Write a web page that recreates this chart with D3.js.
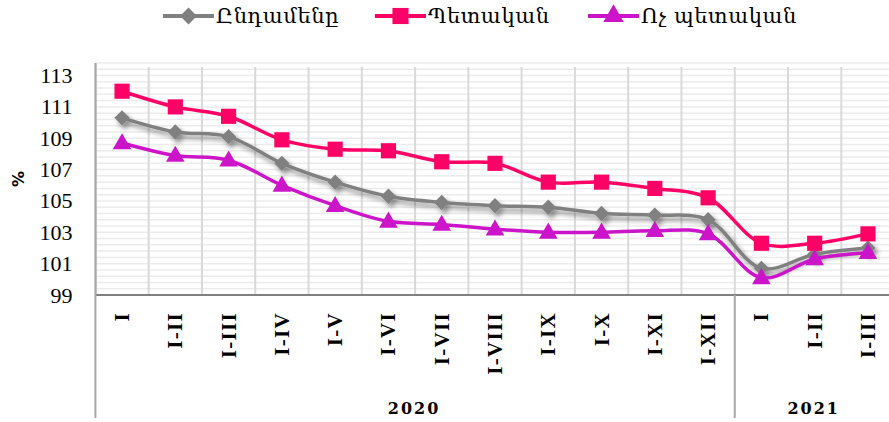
<!DOCTYPE html>
<html>
<head>
<meta charset="utf-8">
<script src="https://cdn.jsdelivr.net/npm/d3@7"></script>
<style>
  body { margin: 0; background: #fff; }
  svg { display: block; }
</style>
</head>
<body>
<div id="chart"></div>
<script>
// data
const years = ["2020", "2021"];
const periods2020 = ["I", "I-II", "I-III", "I-IV", "I-V", "I-VI", "I-VII", "I-VIII", "I-IX", "I-X", "I-XI", "I-XII"];
const periods2021 = ["I", "I-II", "I-III"];
const seriesNames = ["Ընդամենը", "Պետական", "Ոչ պետական"];
const totalValues = [110.3, 109.4, 109.1, 107.4, 106.2, 105.3, 104.9, 104.7, 104.6, 104.2, 104.1, 103.8, 100.7, 101.6, 102.0];
const stateValues = [112.0, 111.0, 110.4, 108.9, 108.3, 108.2, 107.5, 107.4, 106.2, 106.2, 105.8, 105.2, 102.3, 102.3, 102.9];
const nonStateValues = [108.7, 107.9, 107.6, 106.0, 104.7, 103.7, 103.5, 103.2, 103.0, 103.0, 103.1, 102.9, 100.1, 101.3, 101.7];
const yTicks = [99, 101, 103, 105, 107, 109, 111, 113];

const categories = periods2020.map(p => ({ year: years[0], label: p }))
    .concat(periods2021.map(p => ({ year: years[1], label: p })));
categories.forEach((c, i) => c.key = c.year + "-" + c.label);

const width = 889, height = 422;
const margin = { top: 63, left: 95.4, right: 894.6, bottom: 295 };

const svg = d3.select("#chart").append("svg")
    .attr("width", width)
    .attr("height", height);

const defs = svg.append("defs");
const shadow = defs.append("filter").attr("id", "shadow")
    .attr("x", "-10%").attr("y", "-10%").attr("width", "130%").attr("height", "140%");
shadow.append("feDropShadow")
    .attr("dx", 3).attr("dy", 4).attr("stdDeviation", 2.5)
    .attr("flood-color", "#000").attr("flood-opacity", 0.45);

const x = d3.scaleBand()
    .domain(categories.map(c => c.key))
    .range([margin.left, margin.right]);

const y = d3.scaleLinear()
    .domain([99, 113.8])
    .range([margin.bottom, margin.top]);

// minor horizontal gridlines
const minor = d3.range(99.4, 113.81, 0.4);
svg.append("g").selectAll("line")
    .data(minor)
    .join("line")
    .attr("x1", margin.left).attr("x2", width)
    .attr("y1", d => y(d)).attr("y2", d => y(d))
    .attr("stroke", "#ececec")
    .attr("stroke-width", 1.5);

// vertical category separators
svg.append("g").selectAll("line")
    .data(categories.slice(1))
    .join("line")
    .attr("x1", d => x(d.key)).attr("x2", d => x(d.key))
    .attr("y1", margin.top + 4).attr("y2", margin.bottom)
    .attr("stroke", "#d9d9d9")
    .attr("stroke-width", 2);

// y axis
const yAxis = svg.append("g")
    .attr("transform", "translate(" + margin.left + ",0)")
    .call(d3.axisLeft(y).tickValues(yTicks).tickSize(0).tickPadding(23));
yAxis.select(".domain").attr("stroke", "#bfbfbf").attr("stroke-width", 1.5);
yAxis.selectAll("text")
    .attr("font-family", "'Liberation Serif', serif")
    .attr("font-size", 22)
    .attr("fill", "#000");

svg.append("text")
    .attr("transform", "translate(24,179) rotate(-90)")
    .attr("text-anchor", "middle")
    .attr("font-family", "'DejaVu Sans', sans-serif")
    .attr("font-weight", "bold")
    .attr("font-size", 16)
    .text("%");

// x axis with two levels
svg.append("line")
    .attr("x1", margin.left).attr("x2", width)
    .attr("y1", margin.bottom).attr("y2", margin.bottom)
    .attr("stroke", "#808080").attr("stroke-width", 2);

svg.append("g").selectAll("text")
    .data(categories)
    .join("text")
    .attr("transform", d => "translate(" + (x(d.key) + x.bandwidth() / 2 + 7) + ",312) rotate(-90)")
    .attr("text-anchor", "end")
    .attr("font-family", "'Liberation Serif', serif")
    .attr("font-weight", "bold")
    .attr("font-size", 21)
    .attr("letter-spacing", 1.3)
    .text(d => d.label);

const yearBounds = years.map(yr => {
    const keys = categories.filter(c => c.year === yr).map(c => c.key);
    return { year: yr, x0: x(keys[0]), x1: x(keys[keys.length - 1]) + x.bandwidth() };
});

svg.append("g").selectAll("line")
    .data(yearBounds)
    .join("line")
    .attr("x1", d => d.x0).attr("x2", d => d.x0)
    .attr("y1", d => d.x0 === margin.left ? margin.top : margin.bottom)
    .attr("y2", 418)
    .attr("stroke", "#a6a6a6").attr("stroke-width", 2);

svg.append("g").selectAll("text")
    .data(yearBounds)
    .join("text")
    .attr("x", d => (d.x0 + d.x1) / 2 - 1)
    .attr("y", 414)
    .attr("text-anchor", "middle")
    .attr("font-family", "'DejaVu Serif', serif")
    .attr("font-weight", "bold")
    .attr("font-size", 16)
    .attr("letter-spacing", 2)
    .text(d => d.year);

// series
const series = [
    { name: seriesNames[0], values: totalValues, color: "#808080", marker: "diamond", shadow: true },
    { name: seriesNames[1], values: stateValues, color: "#ff0066", marker: "square", shadow: false },
    { name: seriesNames[2], values: nonStateValues, color: "#cc14c8", marker: "triangle", shadow: false }
];

const symbols = {
    diamond: d3.symbol().type(d3.symbolDiamond2).size(150),
    square: d3.symbol().type(d3.symbolSquare).size(230),
    triangle: d3.symbol().type(d3.symbolTriangle).size(150)
};

const line = d3.line()
    .x((d, i) => x(categories[i].key) + x.bandwidth() / 2)
    .y(d => y(d))
    .curve(d3.curveCatmullRom.alpha(0.5));

series.forEach(s => {
    const g = svg.append("g");
    if (s.shadow) g.attr("filter", "url(#shadow)");
    g.append("path")
        .datum(s.values)
        .attr("d", line)
        .attr("fill", "none")
        .attr("stroke", s.color)
        .attr("stroke-width", 3.5)
        .attr("stroke-linejoin", "round");
    g.selectAll("path.mark")
        .data(s.values)
        .join("path")
        .attr("class", "mark")
        .attr("transform", (d, i) => "translate(" + (x(categories[i].key) + x.bandwidth() / 2) + "," + (y(d) + (s.marker === "triangle" ? 1 : 0)) + ")")
        .attr("d", symbols[s.marker])
        .attr("fill", s.color);
});

// legend
const legendX = [163, 375, 588];
const legend = svg.append("g").selectAll("g")
    .data(series)
    .join("g")
    .attr("transform", (d, i) => "translate(" + legendX[i] + ",16)");
legend.append("line")
    .attr("x1", 0).attr("x2", 51)
    .attr("stroke", d => d.color)
    .attr("stroke-width", 4);
legend.append("path")
    .attr("transform", "translate(25.5,0)")
    .attr("d", d => symbols[d.marker].size(d.marker === "square" ? 260 : 180)())
    .attr("fill", d => d.color);
legend.append("text")
    .attr("x", 53)
    .attr("y", 7)
    .attr("font-family", "'DejaVu Serif', serif")
    .attr("font-size", 21)
    .attr("letter-spacing", 0.6)
    .text(d => d.name);
</script>
</body>
</html>
